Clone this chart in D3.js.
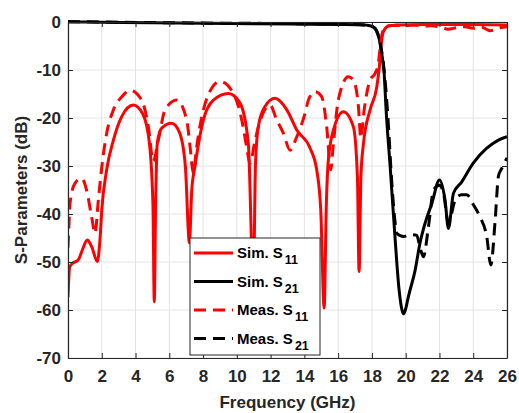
<!DOCTYPE html>
<html>
<head>
<meta charset="utf-8">
<script src="https://cdn.jsdelivr.net/npm/d3@7"></script>
<style>
  body { margin: 0; background: #fff; }
  svg { display: block; font-family: "Liberation Sans", Arial, sans-serif; font-weight: bold; }
  .grid line { stroke: #e3e3e3; stroke-width: 1; }
  .axis path, .axis line { stroke: #262626; }
  .axis text { fill: #262626; font-size: 17px; font-weight: bold; }
</style>
</head>
<body>
<svg width="519" height="413"></svg>
<script>
var width = 519, height = 413;
var margin = {top: 22, right: 12, bottom: 55, left: 68};

// frequency (GHz), dB
var simS11 = [[0,-57.3],[0.1,-51],[0.3,-50.2],[0.6,-49.6],[0.85,-47.5],[1.14,-45.4],[1.4,-46.8],[1.74,-49.9],
  [1.9,-45],[2.0,-39.2],[2.29,-30.8],[2.69,-24.6],[3.18,-19.7],[3.87,-17.3],[4.46,-19.4],[4.82,-25.2],
  [5.03,-38],[5.11,-58.3],[5.19,-38],[5.29,-25.2],[5.55,-22.1],[6.14,-21.1],[6.6,-23],[6.95,-30],
  [7.19,-46],[7.33,-35],[7.52,-30.1],[8.02,-20.4],[8.61,-16.3],[9.5,-14.9],[10.19,-16.9],[10.68,-25.3],
  [10.98,-55],[11.1,-30],[11.27,-21.8],[11.67,-17.6],[12.26,-15.9],[12.96,-18.3],[13.55,-22.5],
  [14.34,-26.3],[14.73,-30.8],[14.97,-39.2],[15.17,-59.6],[15.3,-38],[15.42,-28.75],[15.72,-22.5],
  [16.31,-18.7],[16.9,-21.8],[17.14,-32.2],[17.24,-52],[17.35,-32],[17.5,-25.3],[17.89,-18.3],
  [18.29,-13.5],[18.45,-9],[18.58,-3.75],[18.68,-2.0],[18.98,-0.83],[19.5,-0.6],[21,-0.5],[23,-0.5],
  [25,-0.55],[26,-0.6]];

var simS21 = [[0,0],[2,-0.05],[5,-0.15],[8,-0.25],[11,-0.35],[14,-0.45],[16,-0.5],[17.3,-0.55],[17.7,-0.65],
  [18.0,-0.9],[18.19,-1.3],[18.35,-2.5],[18.48,-4.4],[18.6,-7],[18.72,-10.5],[18.84,-18.3],[19.08,-30.1],
  [19.37,-45],[19.6,-55.5],[19.78,-60],[19.87,-60.8],[19.98,-60],[20.16,-57.2],[20.56,-51.7],[20.85,-46],
  [21.15,-41.9],[21.55,-37.8],[22.0,-32.9],[22.33,-37.1],[22.53,-43],[22.83,-35.7],[23.32,-33.3],
  [24.0,-29.4],[24.8,-26.3],[25.49,-24.6],[26,-23.9]];

var measS11 = [[0,-47],[0.06,-42],[0.12,-37.8],[0.41,-33.6],[0.81,-32.6],[1.1,-35],[1.4,-40.6],[1.6,-44],
  [1.8,-37],[2.05,-28.75],[2.29,-23.2],[2.69,-18.3],[3.18,-15.6],[3.67,-14.2],[4.36,-16.25],[4.76,-21.8],
  [5.05,-29],[5.35,-24.6],[5.75,-18.3],[6.44,-16.25],[7.03,-20.4],[7.23,-26],[7.42,-31.5],[7.62,-26],
  [8.02,-18.3],[8.51,-13.8],[9.0,-12.4],[9.8,-14.9],[10.29,-20.4],[10.58,-26],[10.78,-29.4],[11.08,-24.6],
  [11.47,-19.7],[11.97,-17.3],[12.36,-20.4],[12.76,-23.2],[13.15,-26.7],[13.55,-23.9],[14.04,-19],
  [14.24,-16.25],[14.63,-14.5],[15.03,-15.6],[15.32,-21.8],[15.56,-30.8],[15.72,-25.3],[16.01,-16.25],
  [16.6,-11.4],[16.9,-12.1],[17.2,-17.6],[17.34,-24.2],[17.54,-18.3],[17.89,-12.1],[18.19,-10.7],
  [18.38,-8.6],[18.5,-5],[18.6,-2.5],[18.75,-1.3],[19,-0.8],[19.5,-0.7],[20,-0.8],[20.5,-0.6],[21,-0.9],
  [21.5,-0.8],[22,-1.0],[22.5,-1.5],[23,-1.2],[23.5,-1.0],[24,-1.3],[24.5,-1.1],[25,-1.8],[25.3,-1.6],
  [25.6,-1.2],[26,-1.0]];

var measS21 = [[0,0.1],[3,-0.05],[6,-0.15],[9,-0.25],[12,-0.3],[15,-0.4],[17,-0.5],[17.8,-0.7],[18.1,-1.1],
  [18.35,-2.5],[18.55,-5.5],[18.75,-11],[18.95,-20],[19.15,-32],[19.35,-41],[19.47,-44],[19.87,-44.7],
  [20.3,-44.3],[20.65,-44.4],[20.85,-47],[21.05,-48.9],[21.35,-42.6],[21.65,-35],[22.0,-34],[22.24,-35.7],
  [22.53,-41.9],[22.93,-37.1],[23.3,-36],[23.62,-36],[24.0,-38],[24.4,-40.6],[24.8,-44.7],[25.04,-50.6],
  [25.3,-41.25],[25.49,-32.2],[25.69,-30.5],[26,-28.3]];

var xTicks = d3.range(0, 27, 2);
var yTicks = d3.range(-70, 1, 10);

var series = [
  {name: "Sim. S", sub: "11", data: simS11, color: "#ff0000", dash: null},
  {name: "Sim. S", sub: "21", data: simS21, color: "#000000", dash: null},
  {name: "Meas. S", sub: "11", data: measS11, color: "#ff0000", dash: "12,7"},
  {name: "Meas. S", sub: "21", data: measS21, color: "#000000", dash: "12,7"}
];

var svg = d3.select("svg");

var x = d3.scaleLinear().domain([0, 26]).range([margin.left, width - margin.right]);
var y = d3.scaleLinear().domain([-70, 0]).range([height - margin.bottom, margin.top]);

// grid
svg.append("g").attr("class", "grid")
  .selectAll("line.v").data(xTicks).enter().append("line")
  .attr("x1", function(d) { return x(d); }).attr("x2", function(d) { return x(d); })
  .attr("y1", y(-70)).attr("y2", y(0));
svg.select(".grid")
  .selectAll("line.h").data(yTicks).enter().append("line")
  .attr("x1", x(0)).attr("x2", x(26))
  .attr("y1", function(d) { return y(d); }).attr("y2", function(d) { return y(d); });

svg.append("defs").append("clipPath").attr("id", "plot")
  .append("rect")
  .attr("x", x(0)).attr("y", y(0) - 2)
  .attr("width", x(26) - x(0)).attr("height", y(-70) - y(0) + 2);

var line = d3.line()
  .x(function(d) { return x(d[0]); })
  .y(function(d) { return y(d[1]); })
  .curve(d3.curveMonotoneX);

svg.append("g").attr("clip-path", "url(#plot)")
  .selectAll("path").data(series).enter().append("path")
  .attr("d", function(d) { return line(d.data); })
  .attr("fill", "none")
  .attr("stroke", function(d) { return d.color; })
  .attr("stroke-width", 3)
  .attr("stroke-dasharray", function(d) { return d.dash; })
  .attr("stroke-linejoin", "round");

// axes (plain hyphen minus, like the original)
var fmt = function(d) { return String(d); };
svg.append("g").attr("class", "axis")
  .attr("transform", "translate(0," + y(-70) + ")")
  .call(d3.axisBottom(x).tickValues(xTicks).tickFormat(fmt).tickSizeInner(-5).tickSizeOuter(0).tickPadding(12));
svg.append("g").attr("class", "axis")
  .attr("transform", "translate(" + x(0) + ",0)")
  .call(d3.axisLeft(y).tickValues(yTicks).tickFormat(fmt).tickSizeInner(-5).tickSizeOuter(0).tickPadding(7));
svg.append("g").attr("class", "axis")
  .attr("transform", "translate(0," + y(0) + ")")
  .call(d3.axisTop(x).tickValues(xTicks).tickSizeInner(-5).tickSizeOuter(0).tickFormat(""));
svg.append("g").attr("class", "axis")
  .attr("transform", "translate(" + x(26) + ",0)")
  .call(d3.axisRight(y).tickValues(yTicks).tickSizeInner(-5).tickSizeOuter(0).tickFormat(""));
svg.selectAll(".axis .domain").attr("stroke-width", 1.2);

svg.append("text")
  .attr("x", (x(0) + x(26)) / 2).attr("y", 408)
  .attr("text-anchor", "middle")
  .attr("fill", "#262626").attr("font-size", 17)
  .text("Frequency (GHz)");

svg.append("text")
  .attr("transform", "translate(27," + (y(0) + y(-70)) / 2 + ") rotate(-90)")
  .attr("text-anchor", "middle")
  .attr("fill", "#262626").attr("font-size", 17)
  .text("S-Parameters (dB)");

// legend
var lg = svg.append("g").attr("transform", "translate(190,238)");
lg.append("rect").attr("width", 130).attr("height", 117)
  .attr("fill", "#fff").attr("stroke", "#262626").attr("stroke-width", 1);
var item = lg.selectAll("g.item").data(series).enter().append("g")
  .attr("transform", function(d, i) { return "translate(0," + (15 + i * 28.5) + ")"; });
item.append("line")
  .attr("x1", 4).attr("x2", 43)
  .attr("stroke", function(d) { return d.color; })
  .attr("stroke-width", 3)
  .attr("stroke-dasharray", function(d) { return d.dash; });
var t = item.append("text").attr("x", 47).attr("y", 5)
  .attr("fill", "#000").attr("font-size", 15);
t.append("tspan").text(function(d) { return d.name; });
t.append("tspan").attr("dx", 2).attr("dy", 6).attr("font-size", 12.5)
  .text(function(d) { return d.sub; });
</script>
</body>
</html>
